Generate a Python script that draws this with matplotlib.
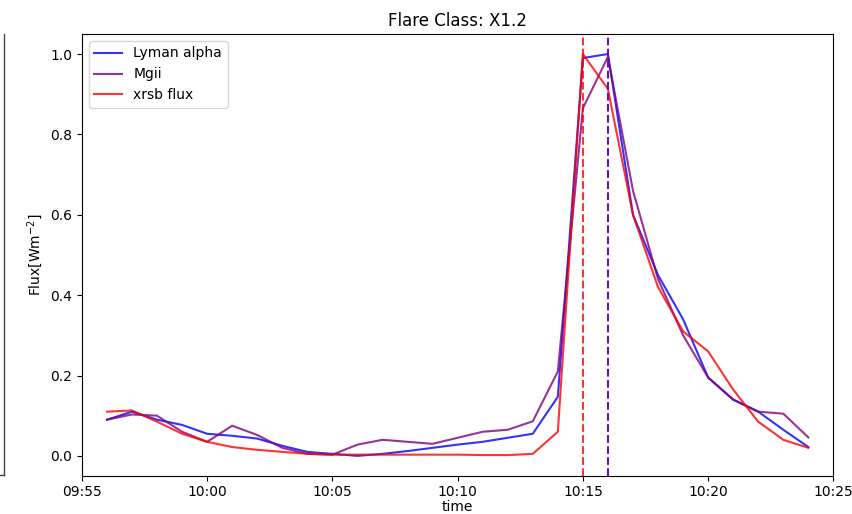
import numpy as np
import pandas as pd
import matplotlib
matplotlib.use("Agg")
import matplotlib.pyplot as plt
import matplotlib.dates as mdates
from matplotlib.lines import Line2D

# one sample per minute, 09:56 -> 10:24
times = pd.date_range("2021-01-01 09:56", "2021-01-01 10:24", freq="1min")

lyman = [0.09, 0.11, 0.09, 0.077, 0.055, 0.05, 0.043, 0.025, 0.01, 0.005,
         0.0, 0.005, 0.012, 0.02, 0.028, 0.035, 0.045, 0.055, 0.147, 0.99,
         1.0, 0.60, 0.45, 0.34, 0.195, 0.14, 0.11, 0.065, 0.022]
mgii = [0.09, 0.103, 0.10, 0.06, 0.035, 0.075, 0.052, 0.02, 0.005, 0.003,
        0.028, 0.04, 0.035, 0.03, 0.045, 0.06, 0.065, 0.086, 0.21, 0.865,
        0.993, 0.66, 0.44, 0.30, 0.195, 0.14, 0.11, 0.105, 0.046]
xrsb = [0.11, 0.113, 0.085, 0.055, 0.035, 0.022, 0.015, 0.01, 0.005, 0.003,
        0.003, 0.003, 0.003, 0.003, 0.003, 0.002, 0.002, 0.005, 0.06, 1.0,
        0.913, 0.60, 0.42, 0.31, 0.26, 0.165, 0.085, 0.04, 0.02]

xrsb_peak = pd.Timestamp("2021-01-01 10:15")
mgii_peak = pd.Timestamp("2021-01-01 10:16")

fig = plt.figure(figsize=(8.53, 5.14), dpi=100)
ax = fig.add_axes([0.096, 0.074, 0.881, 0.86])

ax.plot(times, lyman, color="blue", alpha=0.8, label="Lyman alpha")
ax.plot(times, mgii, color="purple", alpha=0.8, label="Mgii")
ax.plot(times, xrsb, color="red", alpha=0.8, label="xrsb flux")
ax.axvline(xrsb_peak, color="red", ls="--", alpha=0.8)
ax.axvline(mgii_peak, color="#6a10b0", ls="--")

ax.set_xlim(pd.Timestamp("2021-01-01 09:55"), pd.Timestamp("2021-01-01 10:25"))
ax.set_ylim(-0.05, 1.05)
ax.xaxis.set_major_locator(mdates.MinuteLocator(byminute=range(0, 60, 5)))
ax.xaxis.set_major_formatter(mdates.DateFormatter("%H:%M"))
ax.tick_params(axis="x", pad=3)
ax.set_title("Flare Class: X1.2")
ax.set_xlabel("time", labelpad=1)
ax.set_ylabel("Flux[Wm$^{-2}$]")
ax.legend(loc="upper left")

# edge of the neighbouring panel, cut off at the left
fig.add_artist(Line2D([0.005, 0.005], [0.076, 0.934], color="#444444", lw=1))
fig.add_artist(Line2D([0.0, 0.005], [0.076, 0.076], color="#444444", lw=1))

fig.savefig("out.png", dpi=100)
